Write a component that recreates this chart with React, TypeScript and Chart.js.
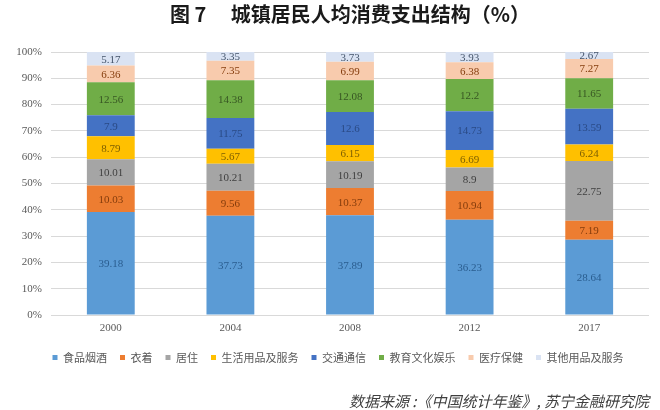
import React, { useEffect, useRef } from "react";
import { Chart, registerables } from "chart.js";

Chart.register(...registerables);

// 城镇居民人均消费支出结构（%）
const years = ["2000", "2004", "2008", "2012", "2017"];
const food = [39.18, 37.73, 37.89, 36.23, 28.64];
const clothing = [10.03, 9.56, 10.37, 10.94, 7.19];
const housing = [10.01, 10.21, 10.19, 8.9, 22.75];
const household = [8.79, 5.67, 6.15, 6.69, 6.24];
const transport = [7.9, 11.75, 12.6, 14.73, 13.59];
const education = [12.56, 14.38, 12.08, 12.2, 11.65];
const medical = [6.36, 7.35, 6.99, 6.38, 7.27];
const others = [5.17, 3.35, 3.73, 3.93, 2.67];

const seriesNames = ["食品烟酒", "衣着", "居住", "生活用品及服务", "交通通信", "教育文化娱乐", "医疗保健", "其他用品及服务"];
const seriesValues = [food, clothing, housing, household, transport, education, medical, others];

const fillColors = ["#5B9BD5", "#ED7D31", "#A5A5A5", "#FFC000", "#4472C4", "#70AD47", "#F8CBAD", "#DAE3F3"];
const labelColors = ["#2A5D8F", "#843C0C", "#3F3F3F", "#7F6000", "#2A4A85", "#375623", "#843C0C", "#44546A"];

const serif = "'Liberation Serif', 'Times New Roman', serif";
const cjk = "'Noto Sans CJK SC', 'Noto Sans', sans-serif";

// draws the value in the middle of each stacked segment
const barLabels = {
  id: "barLabels",
  afterDatasetsDraw(chart: Chart) {
    const { ctx } = chart;
    ctx.save();
    ctx.font = `11px ${serif}`;
    ctx.textAlign = "center";
    ctx.textBaseline = "middle";
    chart.data.datasets.forEach((ds, i) => {
      const meta = chart.getDatasetMeta(i);
      if (meta.hidden) return;
      ctx.fillStyle = labelColors[i];
      meta.data.forEach((bar: any, j: number) => {
        const { x, y, base } = bar.getProps(["x", "y", "base"], true);
        ctx.fillText(String(ds.data[j]), x, (y + base) / 2 + 1);
      });
    });
    ctx.restore();
  },
};

// the legend row sits a little left of the plot centre in the original
const legendShift = {
  id: "legendShift",
  afterLayout(chart: any) {
    const l = chart.legend;
    if (l) {
      l.left -= 12;
      l.right -= 12;
    }
  },
};

export default function App() {
  const canvasRef = useRef<HTMLCanvasElement>(null);
  const chartRef = useRef<Chart | null>(null);

  useEffect(() => {
    if (!canvasRef.current) return;
    if (chartRef.current) chartRef.current.destroy();

    chartRef.current = new Chart(canvasRef.current, {
      type: "bar",
      data: {
        labels: years,
        datasets: seriesNames.map((name, i) => ({
          label: name,
          data: seriesValues[i],
          backgroundColor: fillColors[i],
          borderWidth: 0,
          barPercentage: 0.8,
          categoryPercentage: 0.5,
        })),
      },
      options: {
        responsive: false,
        animation: false,
        layout: { padding: { top: 0, right: 11, bottom: 0, left: 0 } },
        plugins: {
          title: {
            display: true,
            text: "图 7 　城镇居民人均消费支出结构（%）",
            fullSize: false,
            color: "#1a1a1a",
            font: { family: cjk, size: 20, weight: "bold" },
            padding: { top: 2, bottom: 26 },
          },
          subtitle: {
            display: true,
            position: "bottom",
            align: "end",
            fullSize: false,
            text: "数据来源 :《中国统计年鉴》, 苏宁金融研究院",
            color: "#404040",
            font: { family: cjk, size: 15, style: "italic" },
            padding: { top: 19, bottom: 0 },
          },
          legend: {
            position: "bottom",
            fullSize: false,
            labels: {
              boxWidth: 5,
              boxHeight: 5,
              padding: 13,
              color: "#595959",
              font: { family: cjk, size: 11 },
            },
          },
          tooltip: { enabled: false },
        },
        scales: {
          x: {
            stacked: true,
            grid: { display: false, drawTicks: false },
            border: { display: false },
            ticks: { color: "#595959", font: { family: serif, size: 11 }, padding: 7 },
            afterFit: (s: any) => {
              s.height = 24;
            },
          },
          y: {
            stacked: true,
            min: 0,
            max: 100,
            grid: { color: "#D9D9D9", drawTicks: false },
            border: { display: false },
            ticks: {
              stepSize: 10,
              padding: 9,
              color: "#595959",
              font: { family: serif, size: 11 },
              callback: (v: any) => v + "%",
            },
            afterFit: (s: any) => {
              s.width = 51;
            },
          },
        },
      },
      plugins: [barLabels, legendShift],
    });

    return () => {
      if (chartRef.current) {
        chartRef.current.destroy();
        chartRef.current = null;
      }
    };
  }, []);

  return (
    <div style={{ position: "fixed", left: 0, top: 0, width: 660, height: 410, background: "#fff" }}>
      <canvas ref={canvasRef} width={660} height={410}></canvas>
    </div>
  );
}
